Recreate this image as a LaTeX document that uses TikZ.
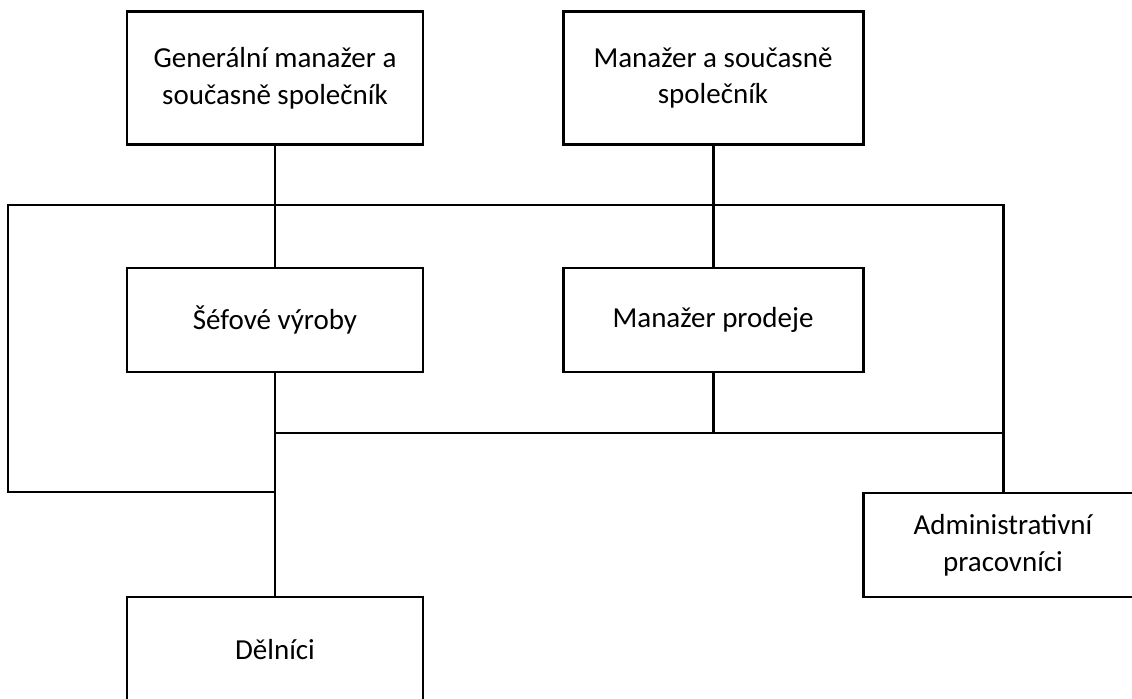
\documentclass[tikz,border=0pt]{standalone}
\usepackage{fontspec}
\setmainfont{Carlito}
\begin{document}
\begin{tikzpicture}[x=0.02cm, y=-0.02cm, line width=1.7pt,
		box/.style={draw, rectangle, align=center, inner sep=0pt,
			font=\fontsize{16.5}{21}\selectfont}]
			\useasboundingbox (0,0) rectangle (1132,699);
			\clip (0,0) rectangle (1132,699);
			\node [box, minimum width=296*0.02cm, minimum height=133*0.02cm] (gm) at (275,78) {Generální manažer a\\současně společník};
			\node [box, minimum width=300*0.02cm, minimum height=133*0.02cm] (m) at (713,78) {Manažer a současně\\společník};
			\node [box, minimum width=296*0.02cm, minimum height=104*0.02cm] (sv) at (275,320) {Šéfové výroby};
			\node [box, minimum width=300*0.02cm, minimum height=104*0.02cm] (mp) at (713,320) {Manažer prodeje};
			\node [box, minimum width=280*0.02cm, minimum height=104*0.02cm] (admin) at (1003,545) {Administrativní\\pracovníci};
			\node [box, minimum width=296*0.02cm, minimum height=106*0.02cm] (del) at (275,650) {Dělníci};
			\coordinate (tl) at (8,205);
			\coordinate (bl) at (8,492);
			\coordinate (rail) at (713,433);
			\draw (gm) -- (sv);
			\draw (m) -- (mp);
			\draw (sv) -- (del);
			\draw (mp) -- (rail);
			\draw (sv |- rail) -- (admin |- rail);
			\draw (admin) -- (admin |- tl) -- (tl) -- (bl) -- (sv |- bl);
		\end{tikzpicture}
\end{document}
